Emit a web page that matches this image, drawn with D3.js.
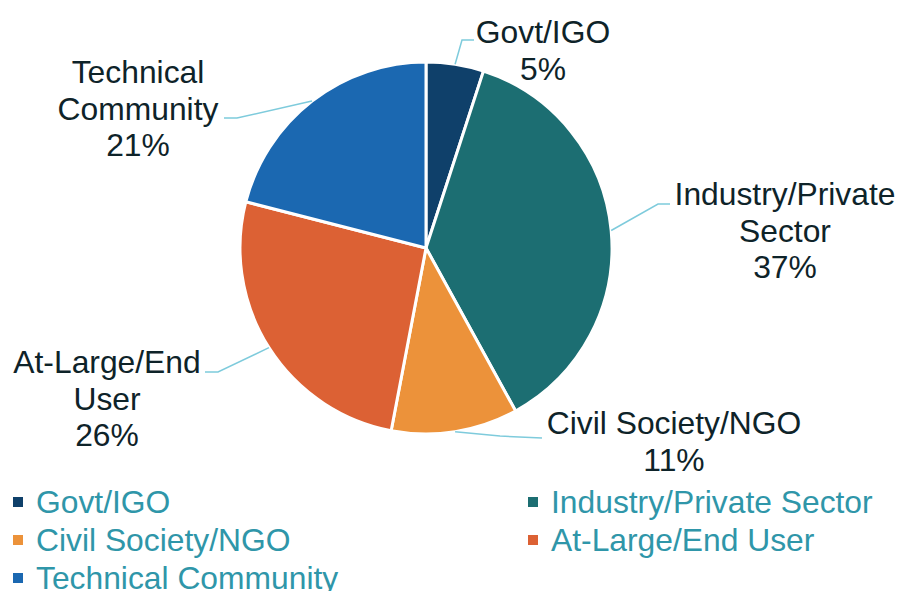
<!DOCTYPE html>
<html>
<head>
<meta charset="utf-8">
<script src="https://cdn.jsdelivr.net/npm/d3@7"></script>
<style>
  body { margin: 0; background: #fff; }
  svg { display: block; font-family: "Liberation Sans", Arial, sans-serif; }
</style>
</head>
<body>
<svg id="chart" width="898" height="591"></svg>
<script>
const categories = ["Govt/IGO", "Industry/Private Sector", "Civil Society/NGO", "At-Large/End User", "Technical Community"];
const shares = [5, 37, 11, 26, 21];
const labelLines = [["Govt/IGO"], ["Industry/Private", "Sector"], ["Civil Society/NGO"], ["At-Large/End", "User"], ["Technical", "Community"]];
const colors = ["#0f406a", "#1c6e72", "#ec923a", "#dc6134", "#1b68b1"];

const svg = d3.select("#chart");
const cx = 426, cy = 248, r = 186;
const fs = 31.8, lh = 36.5;

const data = categories.map((c, i) => ({ name: c, value: shares[i], lines: labelLines[i], color: colors[i] }));

const pie = d3.pie().value(d => d.value).sort(null);
const arcs = pie(data);
const arc = d3.arc().innerRadius(0).outerRadius(r);
const edge = d3.arc().innerRadius(r).outerRadius(r);

const g = svg.append("g").attr("transform", `translate(${cx},${cy})`);

g.selectAll("path.slice")
    .data(arcs)
    .enter().append("path")
    .attr("class", "slice")
    .attr("d", arc)
    .attr("fill", d => d.data.color)
    .attr("stroke", "#fff")
    .attr("stroke-width", 3)
    .attr("stroke-linejoin", "round");

// label layout: elbow point, line end, text centre x, first baseline (page coords)
const layout = [
    { elbow: [462, 40], end: [474, 40], tx: 543, ty: 43 },
    { elbow: [658, 204], end: [670, 204], tx: 785, ty: 205 },
    { elbow: [500, 436], end: [542, 438], tx: 674, ty: 434 },
    { elbow: [218, 372], end: [205, 372], tx: 107, ty: 373 },
    { elbow: [237, 118], end: [224, 118], tx: 138, ty: 83 }
];

const labels = svg.append("g");
arcs.forEach((d, i) => {
    const p = edge.centroid(d);
    const L = layout[i];
    labels.append("polyline")
        .attr("points", [[p[0] + cx, p[1] + cy], L.elbow, L.end].map(q => q.join(",")).join(" "))
        .attr("fill", "none")
        .attr("stroke", "#7ecbdc")
        .attr("stroke-width", 1.5);
    const t = labels.append("text")
        .attr("text-anchor", "middle")
        .attr("font-size", fs)
        .attr("fill", "#0e2329");
    const lines = d.data.lines.concat([d.data.value + "%"]);
    lines.forEach((s, j) => {
        t.append("tspan").attr("x", L.tx).attr("y", L.ty + j * lh).text(s);
    });
});

// legend
const legend = svg.append("g");
const legX = [13, 528], legY = [502, 540, 578];
data.forEach((d, i) => {
    const x = legX[i % 2], y = legY[Math.floor(i / 2)];
    legend.append("rect")
        .attr("x", x).attr("y", y - 5).attr("width", 10).attr("height", 10)
        .attr("fill", d.color);
    legend.append("text")
        .attr("x", x + 23).attr("y", y + 11)
        .attr("font-size", fs)
        .attr("fill", "#2f96a9")
        .text(d.name);
});
</script>
</body>
</html>
